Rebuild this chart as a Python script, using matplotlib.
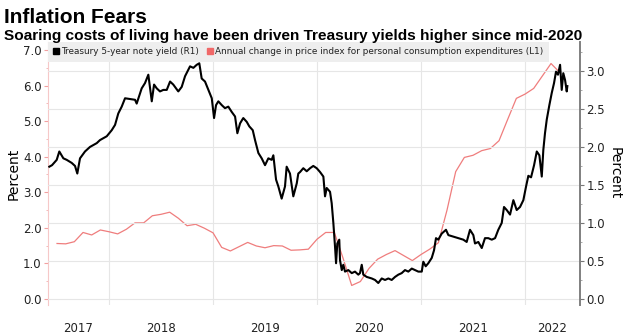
import numpy as np
import pandas as pd
import matplotlib
matplotlib.use("Agg")
import matplotlib.pyplot as plt
from matplotlib.lines import Line2D

# PCE price index, annual % change, month-end (left axis)
pce_months = pd.period_range("2017-06", "2022-04", freq="M")
pce_values = [1.56, 1.55, 1.61, 1.87, 1.80, 1.94, 1.89,
              1.83, 1.96, 2.14, 2.14, 2.34, 2.38, 2.44, 2.27, 2.06, 2.10, 1.99, 1.86,
              1.45, 1.35, 1.47, 1.59, 1.49, 1.44, 1.50, 1.49, 1.37, 1.38, 1.40, 1.68,
              1.87, 1.87, 1.15, 0.38, 0.49, 0.86, 1.12, 1.25, 1.36, 1.22, 1.08, 1.25,
              1.40, 1.58, 2.50, 3.58, 3.98, 4.04, 4.17, 4.23, 4.45, 5.05, 5.64, 5.76,
              5.92, 6.27, 6.62, 6.37]

# Treasury 5-year note yield (right axis), decimal-year dates
t5_time = [2017.426, 2017.452, 2017.497, 2017.522, 2017.561, 2017.593, 2017.641, 2017.673,
           2017.695, 2017.721, 2017.769, 2017.817, 2017.882, 2017.913, 2017.978, 2018.026,
           2018.058, 2018.089, 2018.122, 2018.154, 2018.202, 2018.250, 2018.266, 2018.314,
           2018.346, 2018.378, 2018.411, 2018.433, 2018.459, 2018.490, 2018.522, 2018.555,
           2018.587, 2018.618, 2018.666, 2018.699, 2018.731, 2018.779, 2018.811, 2018.843,
           2018.868, 2018.891, 2018.923, 2018.955, 2018.988, 2019.010, 2019.029, 2019.051,
           2019.084, 2019.115, 2019.147, 2019.180, 2019.212, 2019.234, 2019.260, 2019.291,
           2019.324, 2019.349, 2019.382, 2019.404, 2019.436, 2019.468, 2019.500, 2019.532,
           2019.564, 2019.580, 2019.606, 2019.628, 2019.660, 2019.692, 2019.708, 2019.740,
           2019.772, 2019.805, 2019.820, 2019.837, 2019.868, 2019.901, 2019.933, 2019.964,
           2019.997, 2020.029, 2020.061, 2020.077, 2020.093, 2020.125, 2020.141, 2020.157,
           2020.173, 2020.183, 2020.195, 2020.214, 2020.221, 2020.238, 2020.253, 2020.269,
           2020.301, 2020.334, 2020.365, 2020.397, 2020.413, 2020.430, 2020.445, 2020.478,
           2020.526, 2020.558, 2020.589, 2020.622, 2020.654, 2020.686, 2020.718, 2020.750,
           2020.782, 2020.814, 2020.846, 2020.878, 2020.911, 2020.942, 2020.974, 2021.007,
           2021.022, 2021.045, 2021.070, 2021.103, 2021.125, 2021.144, 2021.166, 2021.199,
           2021.240, 2021.263, 2021.311, 2021.359, 2021.407, 2021.439, 2021.471, 2021.503,
           2021.519, 2021.551, 2021.584, 2021.615, 2021.647, 2021.680, 2021.712, 2021.743,
           2021.776, 2021.798, 2021.824, 2021.856, 2021.888, 2021.920, 2021.952, 2021.984,
           2022.010, 2022.032, 2022.058, 2022.087, 2022.113, 2022.138, 2022.161, 2022.176,
           2022.192, 2022.209, 2022.234, 2022.257, 2022.279, 2022.298, 2022.317, 2022.337,
           2022.353, 2022.368, 2022.385, 2022.401, 2022.407]
t5_yield = [1.74, 1.76, 1.83, 1.94, 1.85, 1.83, 1.79, 1.75,
            1.65, 1.85, 1.94, 2.00, 2.05, 2.09, 2.14, 2.22,
            2.29, 2.44, 2.53, 2.64, 2.63, 2.62, 2.57, 2.77,
            2.84, 2.95, 2.60, 2.82, 2.77, 2.73, 2.75, 2.75,
            2.86, 2.82, 2.73, 2.79, 2.93, 3.06, 3.04, 3.08,
            3.10, 2.90, 2.86, 2.75, 2.64, 2.38, 2.55, 2.60,
            2.55, 2.51, 2.53, 2.46, 2.40, 2.18, 2.31, 2.38,
            2.33, 2.27, 2.22, 2.09, 1.92, 1.85, 1.76, 1.85,
            1.83, 1.89, 1.57, 1.48, 1.32, 1.48, 1.74, 1.65,
            1.35, 1.52, 1.65, 1.67, 1.72, 1.68, 1.72, 1.75,
            1.72, 1.67, 1.61, 1.35, 1.46, 1.41, 1.26, 1.00,
            0.69, 0.47, 0.73, 0.78, 0.51, 0.38, 0.45, 0.36,
            0.38, 0.34, 0.36, 0.32, 0.34, 0.45, 0.32, 0.29,
            0.27, 0.25, 0.21, 0.27, 0.25, 0.27, 0.25, 0.29,
            0.32, 0.34, 0.38, 0.36, 0.40, 0.38, 0.36, 0.36,
            0.49, 0.43, 0.47, 0.54, 0.64, 0.80, 0.78, 0.86,
            0.91, 0.84, 0.82, 0.80, 0.78, 0.75, 0.91, 0.84,
            0.73, 0.75, 0.67, 0.80, 0.80, 0.78, 0.80, 0.91,
            1.00, 1.21, 1.17, 1.11, 1.30, 1.17, 1.21, 1.30,
            1.48, 1.62, 1.60, 1.76, 1.94, 1.89, 1.61, 1.96,
            2.18, 2.36, 2.55, 2.71, 2.84, 2.99, 2.95, 3.08,
            2.75, 2.97, 2.88, 2.73, 2.80]

years = [2017, 2018, 2019, 2020, 2021, 2022]

TITLE_FONT = ["Liberation Sans", "DejaVu Sans"]
PINK = "#ef7d7d"
GRID = "#e6e6e6"

pce_x = [p.year + p.month / 12 for p in pce_months]

fig = plt.figure(figsize=(6.27, 3.35), dpi=100)
ax = fig.add_axes([0.0766, 0.0896, 0.8485, 0.785])
ax2 = ax.twinx()

xmin, xmax = 2017.4135, 2022.529
ax.set_xlim(xmin, xmax)
ax.set_ylim(-0.169, 7.225)
ax2.set_ylim(-0.079, 3.38)

# year boundaries as gridlines, labels centred in each (visible) year span
ax.set_xticks(years[1:], minor=True)
mids = [(max(y, xmin) + min(y + 1, xmax)) / 2 for y in years]
ax.set_xticks(mids, [str(y) for y in years])
ax.tick_params(axis="x", which="both", length=0, labelsize=8.5, pad=12, colors="#222222")
ax.grid(which="minor", axis="x", color=GRID, lw=0.8)

ax.plot(pce_x, pce_values, color=PINK, lw=0.9, zorder=2)
ax2.plot(t5_time, t5_yield, color="black", lw=1.5, zorder=3)
ax.set_zorder(ax2.get_zorder() - 1)
ax.patch.set_visible(False)

# left axis: PCE
ax.set_yticks(np.arange(0, 8, 1.0))
ax.set_yticklabels([f"{v:.1f}" for v in np.arange(0, 8, 1.0)])
ax.set_yticks(np.arange(0, 7.01, 0.5), minor=True)
ax.tick_params(axis="y", which="major", length=3, color="#f2a0a0", labelsize=8.5,
               labelcolor="#222222", pad=1.5)
ax.tick_params(axis="y", which="minor", length=1.5, color="#f2b0b0")
ax.set_ylabel("Percent", fontsize=10, labelpad=2)

# right axis: treasury yield, drives the horizontal grid
ax2.set_yticks(np.arange(0, 3.01, 0.5))
ax2.set_yticklabels([f"{v:.1f}" for v in np.arange(0, 3.01, 0.5)])
ax2.set_yticks(np.arange(0, 3.31, 0.25), minor=True)
ax2.tick_params(axis="y", which="major", length=3, color="#777777", labelsize=8.5,
                labelcolor="#222222", pad=1.5)
ax2.tick_params(axis="y", which="minor", length=1.5, color="#999999")
ax2.grid(which="major", axis="y", color=GRID, lw=0.8)
ax2.set_axisbelow(True)
ax2.set_ylabel("Percent", fontsize=10, rotation=270, labelpad=12)

for a in (ax, ax2):
    for side in ("top", "bottom"):
        a.spines[side].set_visible(False)
ax.spines["right"].set_visible(False)
ax2.spines["left"].set_visible(False)
ax.spines["left"].set_color("#f6c8c8")
ax.spines["left"].set_linewidth(0.8)
ax2.spines["right"].set_color("#808080")
ax2.spines["right"].set_linewidth(1.4)

handles = [Line2D([], [], ls="none", marker="s", ms=4.5, color="black"),
           Line2D([], [], ls="none", marker="s", ms=4.5, color="#f06868")]
labels = ["Treasury 5-year note yield (R1)",
          "Annual change in price index for personal consumption expenditures (L1)"]
leg = ax2.legend(handles, labels, loc="upper left", bbox_to_anchor=(0, 1), ncol=2,
                 frameon=True, fancybox=False, facecolor="#eeeeee", edgecolor="none",
                 framealpha=1, fontsize=6.4, handlelength=0.6, handletextpad=0.3,
                 columnspacing=0.9, borderpad=0.6, borderaxespad=0)
for t in leg.get_texts():
    t.set_color("#222222")

fig.text(0.007, 0.975, "Inflation Fears", fontsize=15, fontweight="bold",
         family=TITLE_FONT, va="top", ha="left")
fig.text(0.007, 0.912, "Soaring costs of living have been driven Treasury yields higher since mid-2020",
         fontsize=11.1, fontweight="bold", family=TITLE_FONT, va="top", ha="left")

fig.savefig("out.png", dpi=100)
